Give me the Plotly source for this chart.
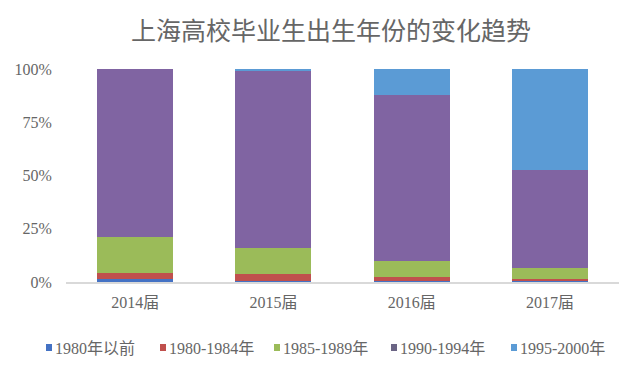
import plotly.graph_objects as go

categories = ["2014届", "2015届", "2016届", "2017届"]
series_names = ["1980年以前", "1980-1984年", "1985-1989年", "1990-1994年", "1995-2000年"]
s_before1980 = [1.3, 0.3, 0.4, 0.5]
s_1980_1984 = [2.8, 3.3, 2.1, 1.0]
s_1985_1989 = [17.2, 12.5, 7.4, 5.2]
s_1990_1994 = [78.7, 83.4, 77.9, 45.9]
s_1995_2000 = [0.0, 0.5, 12.2, 47.4]
colors = ["#4472C4", "#C0504D", "#9BBB59", "#8064A2", "#5B9BD5"]
legend_colors = ["#4472C4", "#C0504D", "#9BBB59", "#6B6585", "#5B9BD5"]

all_series = [s_before1980, s_1980_1984, s_1985_1989, s_1990_1994, s_1995_2000]

W, H = 640, 384
OFF = 8  # page body margin offset
ML, MR, MT, MB = 66 - OFF, 21 + OFF, 69 - OFF, 102 + OFF
font_fam = "Liberation Serif, Noto Sans CJK SC, serif"
fig = go.Figure()
for name, vals, c in zip(series_names, all_series, colors):
    fig.add_trace(go.Bar(
        x=categories, y=[v / 100 for v in vals], name=name,
        marker=dict(color=c, line=dict(width=0)), showlegend=False,
    ))

# custom legend (single row, like the reference), page pixel positions
legend_x_px = [46, 160, 274, 391, 511]
legend_y_px = 348
pw = W - ML - MR
ph = H - MT - MB
shapes = []
annotations = []
for name, c, xp in zip(series_names, legend_colors, legend_x_px):
    xp -= OFF
    yp = legend_y_px - OFF
    x0 = (xp - ML) / pw
    x1 = (xp + 6 - ML) / pw
    y0 = (H - MB - (yp + 3)) / ph
    y1 = (H - MB - (yp - 4)) / ph
    shapes.append(dict(type="rect", xref="paper", yref="paper", x0=x0, x1=x1, y0=y0, y1=y1,
                       fillcolor=c, line=dict(width=0)))
    annotations.append(dict(text=name, xref="paper", yref="paper",
                            x=(xp + 7 - ML) / pw, y=(H - MB - yp) / ph,
                            xanchor="left", yanchor="middle", showarrow=False,
                            font=dict(size=16, color="#666666", family=font_fam)))

fig.update_layout(
    barmode="stack",
    bargap=0.45,
    width=W, height=H,
    margin=dict(l=ML, r=MR, t=MT, b=MB),
    paper_bgcolor="white", plot_bgcolor="white",
    font=dict(family=font_fam, color="#595959", size=16),
    title=dict(text="上海高校毕业生出生年份的变化趋势", x=(331 - OFF) / W, xanchor="center",
               y=1 - (31 - OFF) / H, yanchor="middle",
               font=dict(size=25, color="#666666", family=font_fam)),
    showlegend=False,
    shapes=shapes,
    annotations=annotations,
    xaxis=dict(showline=True, linecolor="#D9D9D9", linewidth=1.5, ticks="outside",
               ticklen=5, tickcolor="rgba(0,0,0,0)",
               tickfont=dict(size=16, color="#666666"), automargin=False),
    yaxis=dict(range=[0, 1], tickvals=[0, 0.25, 0.5, 0.75, 1.0],
               ticktext=["0%", "25%", "50%", "75%", "100%"],
               showgrid=False, zeroline=False, showline=False, automargin=False,
               tickfont=dict(size=16, color="#666666"), ticks="outside", ticklen=10,
               tickcolor="rgba(0,0,0,0)"),
)
fig.write_html("out.html")
